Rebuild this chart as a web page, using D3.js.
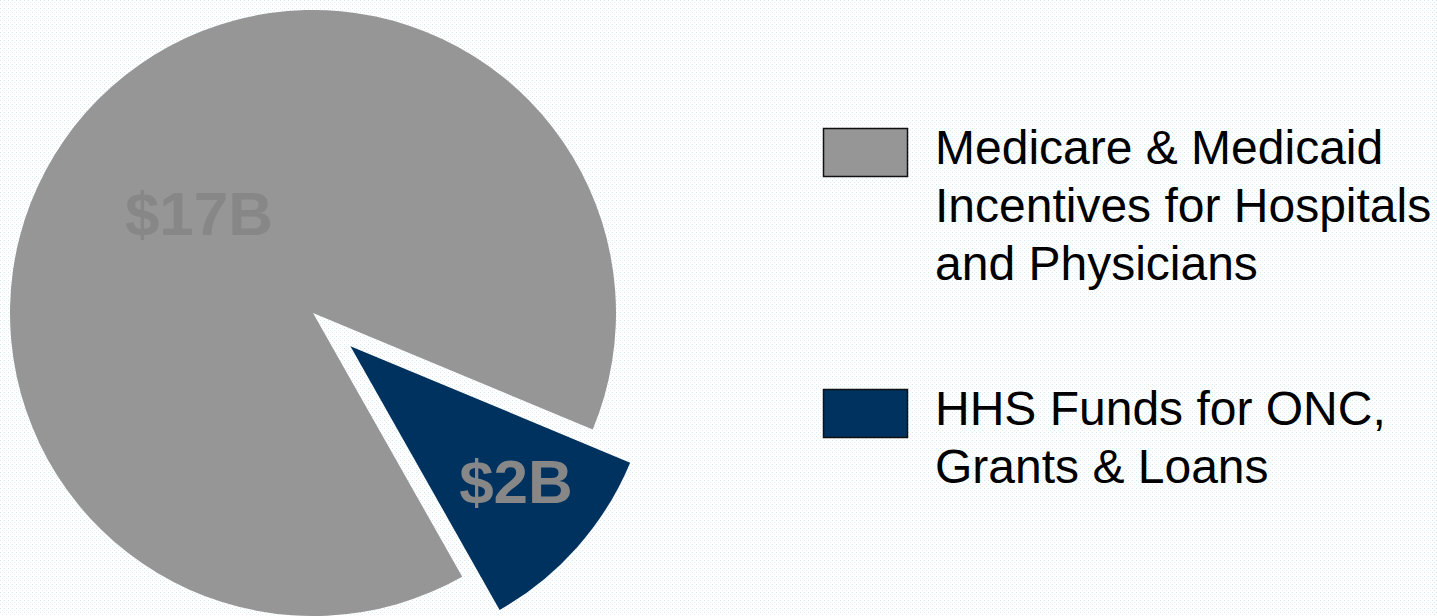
<!DOCTYPE html>
<html>
<head>
<meta charset="utf-8">
<script src="https://cdn.jsdelivr.net/npm/d3@7"></script>
<style>
  html, body { margin: 0; padding: 0; background: #ffffff; }
  svg { display: block; }
</style>
</head>
<body>
<svg id="chart" width="1437" height="616"></svg>
<script>
// data
const categories = ["Medicare & Medicaid Incentives for Hospitals and Physicians", "HHS Funds for ONC, Grants & Loans"];
const values = [17, 2];
const valueLabels = ["$17B", "$2B"];
const legendLines = [
    ["Medicare & Medicaid", "Incentives for Hospitals", "and Physicians"],
    ["HHS Funds for ONC,", "Grants & Loans"]
];
const colors = ["#969696", "#00325f"];

const svg = d3.select("#chart");

// dotted background like the slide
const defs = svg.append("defs");
const pat = defs.append("pattern")
    .attr("id", "dots")
    .attr("width", 4)
    .attr("height", 4)
    .attr("patternUnits", "userSpaceOnUse");
pat.append("rect").attr("width", 4).attr("height", 4).attr("fill", "#ffffff");
pat.append("rect").attr("x", 0).attr("y", 0).attr("width", 1).attr("height", 1).attr("fill", "#d3ebf0");
pat.append("rect").attr("x", 2).attr("y", 2).attr("width", 1).attr("height", 1).attr("fill", "#deeff3");
svg.append("rect").attr("width", 1437).attr("height", 616).attr("fill", "url(#dots)");

// pie setup
const cx = 313, cy = 313, radius = 303;
const deg = Math.PI / 180;
const pie = d3.pie().sort(null)
    .startAngle(150.5 * deg)
    .endAngle(510.5 * deg);
const arcs = pie(values);
const arc = d3.arc().innerRadius(0).outerRadius(radius);
const explode = [0, 50];

const g = svg.append("g").attr("transform", `translate(${cx},${cy})`);

g.selectAll("path")
    .data(arcs)
    .join("path")
    .attr("d", arc)
    .attr("fill", (d, i) => colors[i])
    .attr("transform", (d, i) => {
        const mid = (d.startAngle + d.endAngle) / 2;
        return `translate(${Math.sin(mid) * explode[i]},${-Math.cos(mid) * explode[i]})`;
    });

// value labels
const labelPos = [[-114, -78], [203, 190]];
g.selectAll("text.val")
    .data(arcs)
    .join("text")
    .attr("class", "val")
    .attr("x", (d, i) => labelPos[i][0])
    .attr("y", (d, i) => labelPos[i][1])
    .attr("text-anchor", "middle")
    .attr("font-family", "Liberation Sans, Arial, sans-serif")
    .attr("font-weight", "bold")
    .attr("font-size", 62)
    .attr("fill", "#878787")
    .text((d, i) => valueLabels[i]);

// legend
const legendY = [128, 389];
const legend = svg.append("g");
categories.forEach((c, i) => {
    legend.append("rect")
        .attr("x", 823.5)
        .attr("y", legendY[i] + 0.5)
        .attr("width", 84)
        .attr("height", 48)
        .attr("fill", colors[i])
        .attr("stroke", "#111111")
        .attr("stroke-width", 1.5);
    const t = legend.append("text")
        .attr("font-family", "Liberation Sans, Arial, sans-serif")
        .attr("font-size", 48)
        .attr("fill", "#000000");
    legendLines[i].forEach((line, j) => {
        t.append("tspan")
            .attr("x", 935)
            .attr("y", legendY[i] + 36 + j * 58)
            .text(line);
    });
});
</script>
</body>
</html>
